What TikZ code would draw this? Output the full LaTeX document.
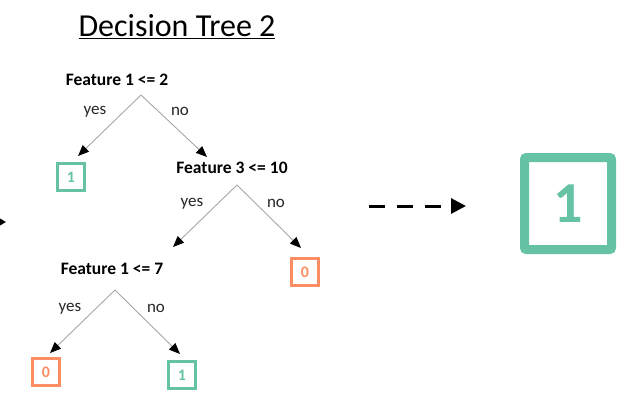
\documentclass[tikz,border=0pt]{standalone}
\usepackage{fontspec}
\setmainfont{Carlito}
\usetikzlibrary{arrows.meta}
\definecolor{leafgreen}{HTML}{66C2A5}
\definecolor{leaforange}{HTML}{FC8D62}
\definecolor{edgegray}{HTML}{A6A6A6}
\begin{document}
\begin{tikzpicture}[x=1pt,y=-1pt,
  cond/.style={font=\fontsize{17.5}{19}\selectfont\bfseries, inner sep=1pt},
  lbl/.style={font=\fontsize{17}{19}\selectfont, text=black!85, inner sep=0pt},
  leaf/.style={draw=#1, line width=2.8pt, text=#1, minimum width=26.5pt, minimum height=26.5pt, inner sep=0pt, font=\fontsize{16}{18}\selectfont\bfseries},
  edge/.style={draw=edgegray, line width=0.9pt, -{Triangle[length=11pt,width=9pt,fill=black,color=black]}},
  dasharr/.style={line width=3pt, dash pattern=on 16pt off 12pt, -{Triangle[length=15pt,width=15pt]}}
]
\useasboundingbox (0,0) rectangle (628,397);
\clip (0,0) rectangle (628,397);

\node[font=\fontsize{32}{36}\selectfont] (title) at (177,27) {\underline{Decision Tree 2}};

\node[cond] (c1) at (117,80) {Feature 1 <= 2};
\node[cond] (c2) at (232,168) {Feature 3 <= 10};
\node[cond] (c3) at (112,269) {Feature 1 <= 7};

\node[leaf=leafgreen] (l1) at (71,177) {1};
\node[leaf=leaforange] (l2) at (305,272) {0};
\node[leaf=leaforange] (l3) at (46,372) {0};
\node[leaf=leafgreen] (l4) at (182,375) {1};

\coordinate (c1s) at (141,95);
\coordinate (c1l) at (78,156);
\coordinate (c1r) at (207,157);
\draw[edge] (c1s) -- (c1l);
\draw[edge] (c1s) -- (c1r);
\node[lbl] (y1) at (95,112) {yes};
\node[lbl] (n1) at (180,111) {no};

\coordinate (c2s) at (237,185);
\coordinate (c2l) at (173,247);
\coordinate (c2r) at (301,248);
\draw[edge] (c2s) -- (c2l);
\draw[edge] (c2s) -- (c2r);
\node[lbl] (y2) at (192,204) {yes};
\node[lbl] (n2) at (276,203) {no};

\coordinate (c3s) at (115,290);
\coordinate (c3l) at (50,353);
\coordinate (c3r) at (180,354);
\draw[edge] (c3s) -- (c3l);
\draw[edge] (c3s) -- (c3r);
\node[lbl] (y3) at (70,309) {yes};
\node[lbl] (n3) at (156,308) {no};

\coordinate (ins) at (-20,222);
\coordinate (ine) at (6,222);
\draw[line width=2.5pt, -{Triangle[length=9pt,width=10pt]}] (ins) -- (ine);

\coordinate (ds) at (369,206);
\coordinate (de) at (466,206);
\draw[dasharr] (ds) -- (de);

\node[draw=leafgreen, line width=9pt, rounded corners=2pt, minimum width=87pt, minimum height=92pt, text=leafgreen, font=\fontsize{58}{60}\selectfont\bfseries, inner sep=0pt] (big) at (568,203.5) {1};
\end{tikzpicture}
\end{document}
